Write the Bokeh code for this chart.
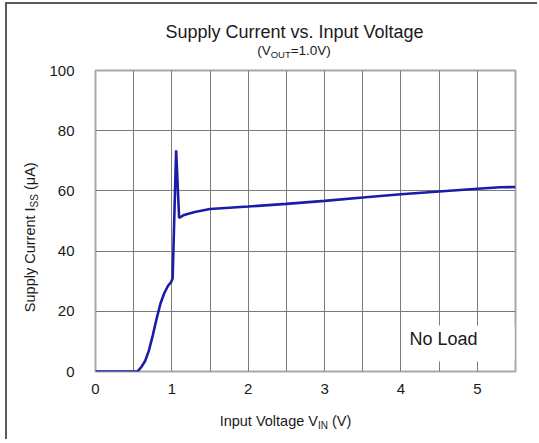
from bokeh.plotting import figure
from bokeh.models import Label, FixedTicker, Range1d, BoxAnnotation, Div
from bokeh.layouts import column
from bokeh.embed import file_html
from bokeh.resources import INLINE

# ---- data ----
vin = [0, 0.55, 0.6, 0.65, 0.7, 0.75, 0.8, 0.85, 0.9, 0.95, 0.99, 1.01,
       1.056, 1.095, 1.16, 1.3, 1.5, 2.0, 2.5, 3.0, 3.5, 4.0, 4.5, 5.0, 5.3, 5.5]
iss = [0, 0, 1.5, 3.5, 7, 12, 17.5, 22.5, 26, 28.5, 29.7, 31,
       73.5, 51, 52, 53, 54, 54.8, 55.7, 56.7, 57.8, 58.9, 59.8, 60.7, 61.2, 61.3]
x_ticks = [0, 1, 2, 3, 4, 5]
x_minor = [0.5, 1.5, 2.5, 3.5, 4.5, 5.5]
y_ticks = [0, 20, 40, 60, 80, 100]

title = "Supply Current vs. Input Voltage"
sub_pre, sub_idx, sub_post = "(V", "OUT", "=1.0V)"
xl_pre, xl_idx, xl_post = "Input Voltage V", "IN", " (V)"
yl_pre, yl_idx, yl_post = "Supply Current I", "SS", " (μA)"
note = "No Load"

OX, OY = 7, 4            # page position of the canvas
W, H = 532, 437
L, R, T, B = 95 - OX, 515 - OX, 70 - OY, 371 - OY
XMAX, YMAX = 5.5, 100.0

def dx(px):
    return (px - OX - L) / (R - L) * XMAX

def dy(py):
    return (B - (py - OY)) / (B - T) * YMAX

FONT = "Liberation Sans"
TXT = "#1a1a1a"

p = figure(width=W, height=H, output_backend="svg", toolbar_location=None,
           x_range=Range1d(0, XMAX), y_range=Range1d(0, YMAX),
           min_border_left=L, min_border_right=W - R, min_border_top=T,
           min_border_bottom=H - B,
           styles={"margin-left": "5px", "margin-top": "2px",
                   "border-left": "2px solid #5a5a5a",
                   "border-top": "2px solid #5a5a5a"})
p.outline_line_color = "#a8a8a8"
p.outline_line_width = 2

p.xaxis.ticker = FixedTicker(ticks=x_ticks, minor_ticks=x_minor)
p.yaxis.ticker = FixedTicker(ticks=y_ticks)
for ax in (p.xaxis, p.yaxis):
    ax.axis_line_color = None
    ax.major_tick_line_color = None
    ax.minor_tick_line_color = None
    ax.major_label_text_font = FONT
    ax.major_label_text_font_size = "15px"
    ax.major_label_text_color = TXT
p.xaxis.major_label_standoff = 6
p.yaxis.major_label_standoff = 15

GRID = "#7a7a7a"
p.xgrid.grid_line_color = GRID
p.xgrid.minor_grid_line_color = GRID
p.ygrid.grid_line_color = GRID

p.line(vin, iss, line_color="#1c1ca8", line_width=2.6)

# "No Load" box hiding the grid
p.add_layout(BoxAnnotation(left=dx(403), right=dx(514), top=dy(325), bottom=dy(361),
                           fill_color="white", fill_alpha=1, line_color=None,
                           level="underlay"))
p.add_layout(Label(x=407 - OX, y=336 - OY, x_units="canvas", y_units="canvas",
                   text=note, text_font=FONT, text_font_size="18px",
                   text_color=TXT, text_baseline="alphabetic"))

# ---- texts outside the frame (HTML overlay, page coordinates) ----
ASC = 0.8465  # baseline position inside a line box of line-height 1

def block(html, cx, baseline, size, width=400):
    top = baseline - ASC * size
    left = cx - width / 2
    return (f'<div style="position:absolute;left:{left:.1f}px;top:{top:.1f}px;'
            f'width:{width}px;text-align:center;white-space:nowrap;'
            f'font-size:{size}px;line-height:{size}px;">{html}</div>')

def sub(t, size, drop):
    return f'<span style="font-size:{size}px;vertical-align:-{drop}px">{t}</span>'

parts = [
    block(title, 294.5, 35, 18),
    block(sub_pre + sub(sub_idx, 9.5, 3) + sub_post, 294, 52, 13.5),
    block(xl_pre + sub(xl_idx, 10, 3) + xl_post, 285.5, 423, 14.5),
]
# rotated y label: centre of line box at x=29.5, y=234.5
ysize = 14.5
yhtml = yl_pre + sub(yl_idx, 10, 3) + yl_post
ytop = 234.5 - ysize / 2
parts.append(
    f'<div style="position:absolute;left:{29.5 - 100}px;top:{ytop}px;width:200px;'
    f'height:{ysize}px;text-align:center;white-space:nowrap;font-size:{ysize}px;'
    f'line-height:{ysize}px;transform:rotate(-90deg);transform-origin:50% 50%;">'
    f'{yhtml}</div>')

overlay = Div(
    text=(f'<div style="position:relative;width:539px;height:443px;'
          f'font-family:\'{FONT}\';color:{TXT};">' + "".join(parts) + '</div>'),
    width=539, height=443,
    styles={"position": "absolute", "left": "-5px", "top": "-2px",
            "pointer-events": "none"})

layout = column(p, overlay)
open("out.html", "w").write(file_html(layout, INLINE))
